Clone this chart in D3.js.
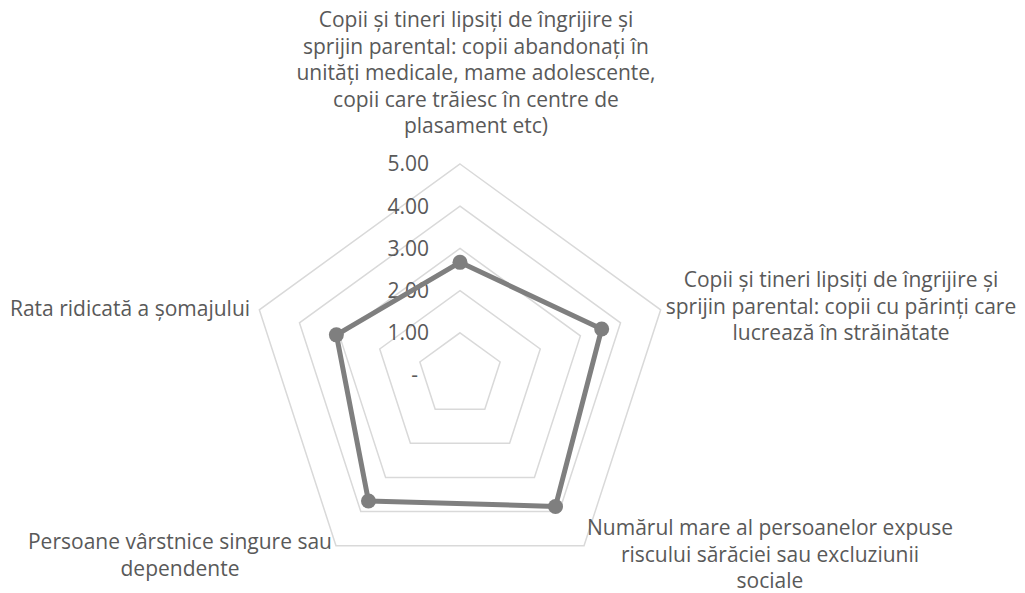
<!DOCTYPE html>
<html>
<head>
<meta charset="utf-8">
<title>Radar</title>
<style>
  body { margin: 0; background: #fff; }
  svg text { font-family: "Open Sans", "Noto Sans", sans-serif; fill: #595959; }
</style>
</head>
<body>
<svg id="grafic" width="1025" height="593"></svg>
<script src="https://d3js.org/d3.v7.min.js"></script>
<script>
// categorii (rânduri de text, cum apar pe grafic)
var categorii = [
  ["Copii și tineri lipsiți de îngrijire și", "sprijin parental: copii abandonați în", "unități medicale, mame adolescente,", "copii care trăiesc în centre de", "plasament etc)"],
  ["Copii și tineri lipsiți de îngrijire și", "sprijin parental: copii cu părinți care", "lucrează în străinătate"],
  ["Numărul mare al persoanelor expuse", "riscului sărăciei sau excluziunii", "sociale"],
  ["Persoane vârstnice singure sau", "dependente"],
  ["Rata ridicată a șomajului"]
];
var valori = [2.67, 3.53, 3.85, 3.69, 3.08];
var niveluri = [0, 1, 2, 3, 4, 5];

var svg = d3.select("#grafic");
var cx = 460, cy = 375, rMax = 211;
var fontSize = 21, lineH = 26.5;

var r = d3.scaleLinear().domain([0, 5]).range([0, rMax]);
var unghi = d3.scaleLinear().domain([0, categorii.length]).range([0, 2 * Math.PI]);

var g = svg.append("g").attr("transform", "translate(" + cx + "," + cy + ")");

// inelele grilei
var poligon = d3.lineRadial().curve(d3.curveLinearClosed);
niveluri.filter(function (n) { return n > 0; }).forEach(function (n) {
  var pts = categorii.map(function (c, i) { return [unghi(i), r(n)]; });
  g.append("path")
    .attr("d", poligon(pts))
    .attr("fill", "none")
    .attr("stroke", "#d9d9d9")
    .attr("stroke-width", 1.5);
});

// etichete axa valorilor
var fmt = d3.format(".2f");
g.selectAll(".tick")
  .data(niveluri)
  .enter()
  .append("text")
  .attr("class", "tick")
  .attr("x", function (d) { return d === 0 ? -42 : -31; })
  .attr("y", function (d) { return -r(d); })
  .attr("dy", "0.35em")
  .attr("text-anchor", "end")
  .style("font-size", fontSize + "px")
  .text(function (d) { return d === 0 ? "-" : fmt(d); });

// seria
var pts = valori.map(function (v, i) { return [unghi(i), r(v)]; });
g.append("path")
  .attr("d", poligon(pts))
  .attr("fill", "none")
  .attr("stroke", "#7f7f7f")
  .attr("stroke-width", 5)
  .attr("stroke-linejoin", "round");

g.selectAll(".punct")
  .data(valori)
  .enter()
  .append("circle")
  .attr("class", "punct")
  .attr("cx", function (d, i) { return r(d) * Math.sin(unghi(i)); })
  .attr("cy", function (d, i) { return -r(d) * Math.cos(unghi(i)); })
  .attr("r", 7.5)
  .attr("fill", "#7f7f7f");

// pozițiile etichetelor de categorie (centru text, baseline primul rând)
var pozitii = [
  [476, 27],
  [841, 287],
  [770, 535],
  [180, 549],
  [130, 316]
];

categorii.forEach(function (linii, i) {
  var t = svg.append("text")
    .attr("text-anchor", "middle")
    .style("font-size", fontSize + "px");
  t.selectAll("tspan")
    .data(linii)
    .enter()
    .append("tspan")
    .attr("x", pozitii[i][0])
    .attr("y", function (d, j) { return pozitii[i][1] + j * lineH; })
    .text(function (d) { return d; });
});
</script>
</body>
</html>
